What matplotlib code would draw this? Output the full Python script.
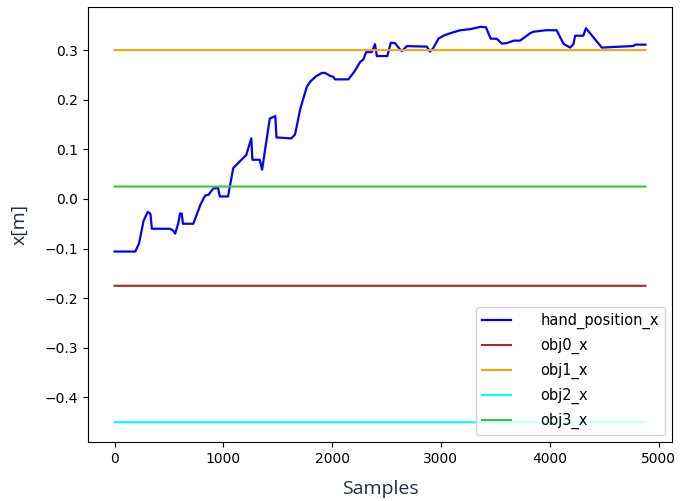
import numpy as np
import matplotlib
matplotlib.use("Agg")
import matplotlib.pyplot as plt

# Hand x-position breakpoints (sample index, metres)
hand_samples = [0, 190, 225, 265, 305, 330, 342, 510, 540, 557, 585, 602, 618, 627, 724,
                786, 832, 862, 906, 951, 967, 1043, 1090, 1163, 1210, 1257, 1266, 1334,
                1356, 1426, 1478, 1487, 1625, 1659, 1705, 1767, 1797, 1850, 1904, 1935,
                1980, 2011, 2027, 2149, 2200, 2256, 2287, 2312, 2364, 2394, 2410, 2507,
                2539, 2578, 2610, 2640, 2686, 2870, 2900, 2930, 2976, 3022, 3084, 3176,
                3268, 3360, 3414, 3456, 3513, 3559, 3605, 3666, 3727, 3819, 3849, 3957,
                4064, 4125, 4187, 4218, 4233, 4309, 4333, 4478, 4554, 4768, 4784, 4880]
hand_x = [-0.106, -0.106, -0.090, -0.045, -0.026, -0.030, -0.060, -0.060, -0.064, -0.070,
          -0.050, -0.029, -0.030, -0.050, -0.050, -0.013, 0.007, 0.008, 0.021, 0.022,
          0.005, 0.005, 0.062, 0.078, 0.088, 0.122, 0.079, 0.079, 0.059, 0.162, 0.167,
          0.124, 0.122, 0.130, 0.180, 0.226, 0.236, 0.247, 0.254, 0.254, 0.248, 0.246,
          0.241, 0.241, 0.255, 0.276, 0.281, 0.296, 0.296, 0.312, 0.288, 0.288, 0.315,
          0.314, 0.305, 0.298, 0.308, 0.307, 0.297, 0.304, 0.323, 0.329, 0.334, 0.340,
          0.342, 0.347, 0.346, 0.323, 0.323, 0.313, 0.314, 0.319, 0.319, 0.334, 0.337,
          0.340, 0.340, 0.313, 0.305, 0.312, 0.329, 0.329, 0.344, 0.305, 0.306, 0.308,
          0.311, 0.311]

# Object x-positions (constant over the recording)
obj_names = ["obj0_x", "obj1_x", "obj2_x", "obj3_x"]
obj_x = [-0.175, 0.300, -0.450, 0.025]
obj_colors = ["firebrick", "orange", "cyan", "limegreen"]

n_samples = 4881
samples = np.arange(n_samples)
hand = np.interp(samples, hand_samples, hand_x)

fig = plt.figure(figsize=(6.84, 5.01), dpi=100)
ax = fig.add_axes([88 / 684, 59 / 501, 584 / 684, 435 / 501])

ax.plot(samples, hand, color="blue", lw=1.6, label="hand_position_x")
for name, val, col in zip(obj_names, obj_x, obj_colors):
    ax.plot(samples, np.full(n_samples, val), color=col, lw=1.5, label=name)

ax.set_xticks([0, 1000, 2000, 3000, 4000, 5000])
ax.set_yticks([-0.4, -0.3, -0.2, -0.1, 0.0, 0.1, 0.2, 0.3])
ax.set_xlabel("Samples", family="Open Sans", fontsize=14, color="#1f2f45", labelpad=10)
ax.set_ylabel("x[m]", family="Open Sans", fontsize=14, color="#1f2f45", labelpad=12)
ax.legend(loc="lower right", fontsize=10.5, handletextpad=2.0, labelspacing=0.6)

fig.savefig("out.png", dpi=100)
